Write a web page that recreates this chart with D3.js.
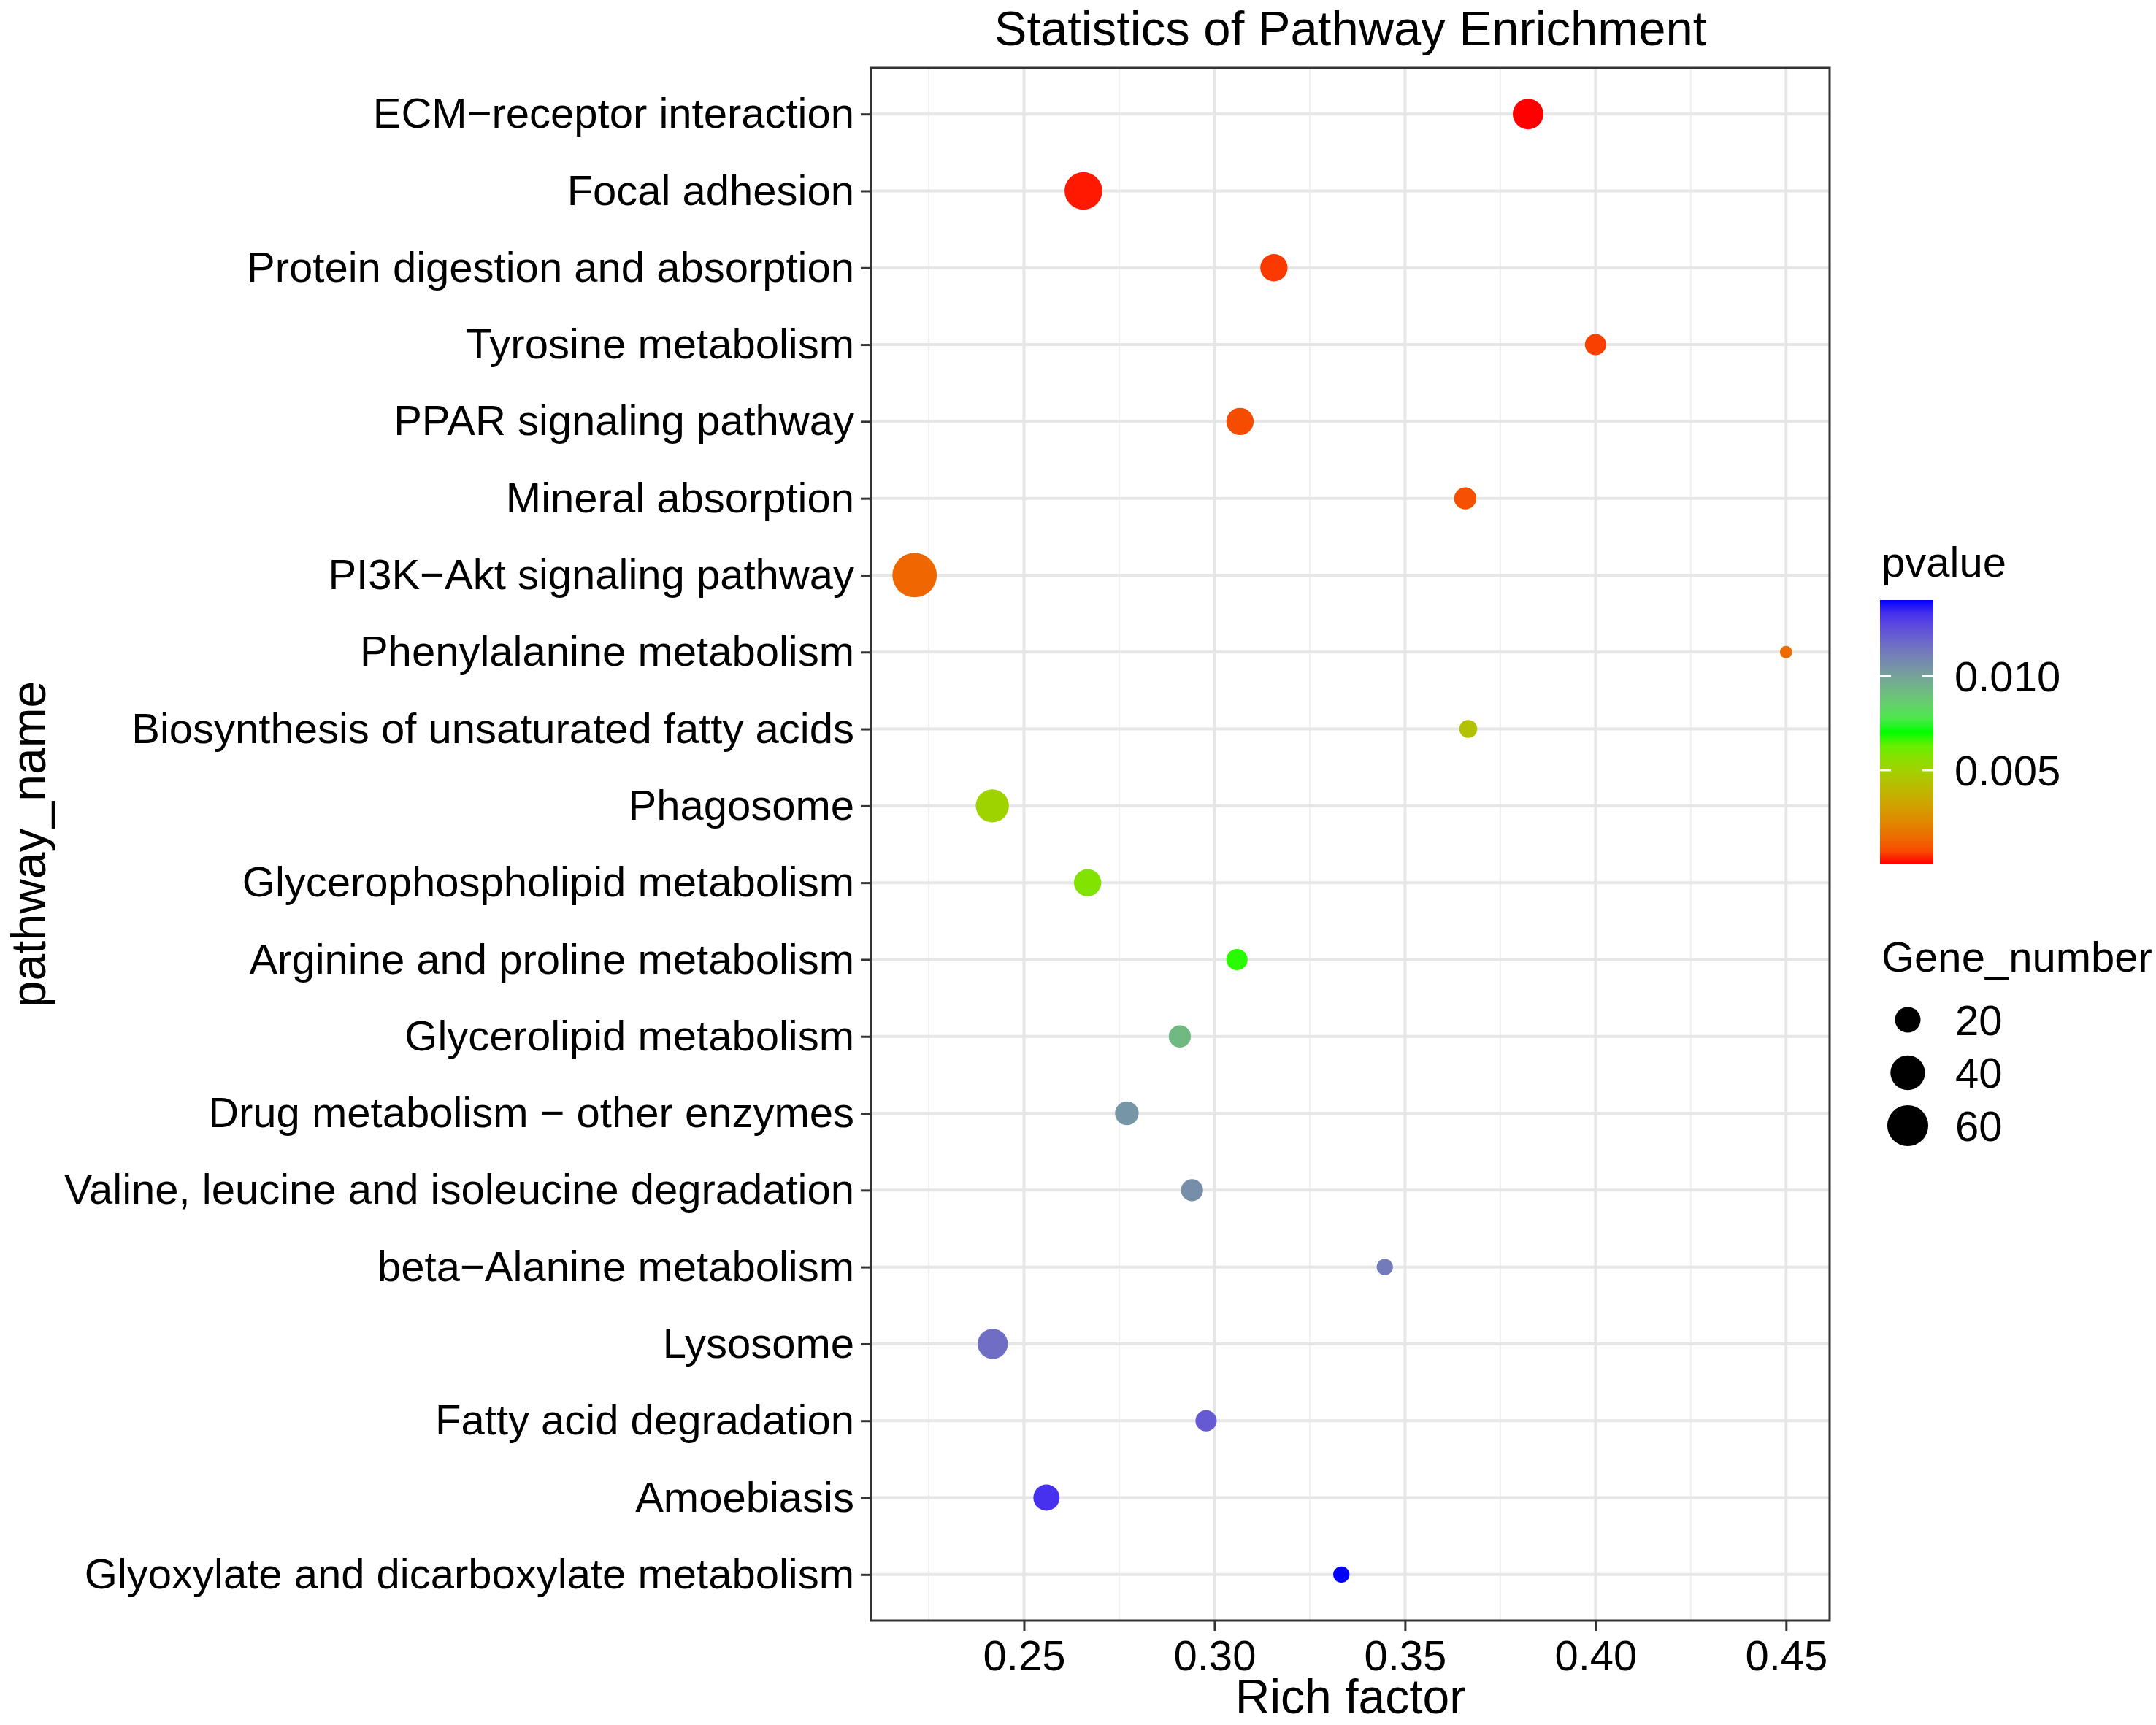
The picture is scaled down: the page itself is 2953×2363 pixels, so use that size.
<!DOCTYPE html>
<html>
<head>
<meta charset="utf-8">
<script src="https://cdn.jsdelivr.net/npm/d3@7"></script>
<style>
    body { margin: 0; background: #fff; }
    text { font-family: "Liberation Sans", Arial, Helvetica, sans-serif; fill: #000; }
</style>
</head>
<body>
<div id="chart-div"></div>
<script>

// pathways, top to bottom
const pathways = [
    "ECM\u2212receptor interaction",
    "Focal adhesion",
    "Protein digestion and absorption",
    "Tyrosine metabolism",
    "PPAR signaling pathway",
    "Mineral absorption",
    "PI3K\u2212Akt signaling pathway",
    "Phenylalanine metabolism",
    "Biosynthesis of unsaturated fatty acids",
    "Phagosome",
    "Glycerophospholipid metabolism",
    "Arginine and proline metabolism",
    "Glycerolipid metabolism",
    "Drug metabolism \u2212 other enzymes",
    "Valine, leucine and isoleucine degradation",
    "beta\u2212Alanine metabolism",
    "Lysosome",
    "Fatty acid degradation",
    "Amoebiasis",
    "Glyoxylate and dicarboxylate metabolism"
];

const richFactor = [0.3823, 0.2656, 0.3156, 0.4000, 0.3067, 0.3658, 0.2213, 0.4500, 0.3666, 0.2417,
                    0.2667, 0.3059, 0.2909, 0.2770, 0.2941, 0.3447, 0.2418, 0.2978, 0.2559, 0.3333];

const geneNumber = [30, 49, 23, 14, 23, 15, 73, 9, 11, 36,
                    23, 14, 15, 17, 15, 10, 29, 14, 21, 10];

const pValue = [0.00002, 0.00012, 0.00045, 0.00055, 0.00075, 0.00085, 0.00135, 0.00145, 0.0044, 0.0051,
                0.0058, 0.0069, 0.0092, 0.0104, 0.0106, 0.0112, 0.0116, 0.0122, 0.0133, 0.01402];

const xTicks = [0.25, 0.30, 0.35, 0.40, 0.45];
const pTicks = [0.005, 0.010];
const sizeBreaks = [20, 40, 60];


function drawChart() {

    const svgDims = { width: 2953, height: 2363 };
    const margin = { top: 93, right: 447, bottom: 143, left: 1193 };

    const svg = d3.select("#chart-div")
        .append("svg")
        .attr("width", svgDims.width)
        .attr("height", svgDims.height);

    const width = svgDims.width - margin.left - margin.right;
    const height = svgDims.height - margin.top - margin.bottom;
    const g = svg.append("g").attr("transform", "translate(" + margin.left + "," + margin.top + ")");

    const rows = pathways.map((name, i) => ({ name: name, rich: richFactor[i], genes: geneNumber[i], p: pValue[i] }));

    // ggplot style 5% expansion
    const [rLo, rHi] = d3.extent(richFactor);
    const pad = (rHi - rLo) * 0.05;
    const xScale = d3.scaleLinear()
        .domain([rLo - pad, rHi + pad])
        .range([0, width]);

    const yScale = d3.scalePoint()
        .domain(pathways)
        .range([0, height])
        .padding(0.6);

    const [pMin, pMax] = d3.extent(pValue);
    const colorScale = d3.scaleLinear()
        .domain([pMin, (pMin + pMax) / 2, pMax])
        .range(["#ff0000", "#00ff00", "#0000ff"])
        .interpolate(d3.interpolateLab);

    // area scale: sqrt of rescaled count
    const [nMin, nMax] = d3.extent(geneNumber);
    const sizeNorm = d3.scaleLinear().domain([nMin, nMax]).range([0, 1]);
    const radiusScale = d3.scaleSqrt().domain([0, 1]).range([8.4, 30.4]);
    const radius = n => radiusScale(sizeNorm(n));

    // Grid - minor lines halfway between the breaks
    const step = xTicks[1] - xTicks[0];
    const xMinor = xTicks.map(t => t - step / 2).concat([xTicks[xTicks.length - 1] + step / 2])
        .filter(v => v > xScale.domain()[0] && v < xScale.domain()[1]);

    g.selectAll(".minor-x").data(xMinor).enter().append("line")
        .attr("x1", d => xScale(d)).attr("x2", d => xScale(d))
        .attr("y1", 0).attr("y2", height)
        .attr("stroke", "#f0f0f0").attr("stroke-width", 2);

    g.selectAll(".major-x").data(xTicks).enter().append("line")
        .attr("x1", d => xScale(d)).attr("x2", d => xScale(d))
        .attr("y1", 0).attr("y2", height)
        .attr("stroke", "#e6e6e6").attr("stroke-width", 4);

    g.selectAll(".major-y").data(pathways).enter().append("line")
        .attr("x1", 0).attr("x2", width)
        .attr("y1", d => yScale(d)).attr("y2", d => yScale(d))
        .attr("stroke", "#e6e6e6").attr("stroke-width", 4);

    // Points
    g.selectAll("circle.pt").data(rows).enter().append("circle")
        .attr("cx", d => xScale(d.rich))
        .attr("cy", d => yScale(d.name))
        .attr("r", d => radius(d.genes))
        .style("fill", d => colorScale(d.p));

    // Panel border
    g.append("rect")
        .attr("width", width).attr("height", height)
        .attr("fill", "none").attr("stroke", "#333").attr("stroke-width", 3);

    // x axis
    const xGroup = g.append("g")
        .attr("transform", "translate(0," + height + ")")
        .call(d3.axisBottom(xScale)
            .tickValues(xTicks)
            .tickFormat(d3.format(".2f"))
            .tickSize(14)
            .tickPadding(13));
    xGroup.attr("font-size", null).attr("font-family", null);
    xGroup.select(".domain").remove();
    xGroup.selectAll("line").attr("stroke", "#333").attr("stroke-width", 3);
    xGroup.selectAll("text").attr("font-size", 58);

    // y axis
    const yGroup = g.append("g")
        .call(d3.axisLeft(yScale).tickSize(14).tickPadding(9));
    yGroup.attr("font-size", null).attr("font-family", null);
    yGroup.select(".domain").remove();
    yGroup.selectAll("line").attr("stroke", "#333").attr("stroke-width", 3);
    yGroup.selectAll("text").attr("font-size", 58);

    // Titles
    svg.append("text")
        .attr("x", margin.left + width / 2).attr("y", 62)
        .attr("text-anchor", "middle").attr("font-size", 67)
        .text("Statistics of Pathway Enrichment");

    svg.append("text")
        .attr("x", margin.left + width / 2).attr("y", 2347)
        .attr("text-anchor", "middle").attr("font-size", 66)
        .text("Rich factor");

    svg.append("text")
        .attr("transform", "translate(62," + (margin.top + height / 2) + ") rotate(-90)")
        .attr("text-anchor", "middle").attr("font-size", 66)
        .text("pathway_name");

    // Colour bar legend
    const bar = { x: 2575, w: 73, top: 822, bottom: 1184 };
    const legendY = d3.scaleLinear().domain([pMin, pMax]).range([bar.bottom, bar.top]);

    const grad = svg.append("defs").append("linearGradient")
        .attr("id", "pgrad")
        .attr("x1", 0).attr("y1", 1).attr("x2", 0).attr("y2", 0);
    grad.selectAll("stop").data(d3.range(0, 21)).enter().append("stop")
        .attr("offset", d => (d / 20 * 100) + "%")
        .attr("stop-color", d => colorScale(pMin + (pMax - pMin) * d / 20));

    svg.append("text")
        .attr("x", 2577).attr("y", 790)
        .attr("font-size", 58)
        .text("pvalue");

    svg.append("rect")
        .attr("x", bar.x).attr("y", bar.top)
        .attr("width", bar.w).attr("height", bar.bottom - bar.top)
        .attr("fill", "url(#pgrad)");

    const barTicks = svg.append("g");
    barTicks.selectAll(".tl").data(pTicks).enter().append("line")
        .attr("x1", bar.x).attr("x2", bar.x + 15)
        .attr("y1", d => legendY(d)).attr("y2", d => legendY(d))
        .attr("stroke", "#fff").attr("stroke-width", 2.5);
    barTicks.selectAll(".tr").data(pTicks).enter().append("line")
        .attr("x1", bar.x + bar.w - 15).attr("x2", bar.x + bar.w)
        .attr("y1", d => legendY(d)).attr("y2", d => legendY(d))
        .attr("stroke", "#fff").attr("stroke-width", 2.5);
    svg.selectAll(".plab").data(pTicks).enter().append("text")
        .attr("x", 2677).attr("y", d => legendY(d))
        .attr("dy", "0.36em").attr("font-size", 58)
        .text(d => d3.format(".3f")(d));

    // Size legend
    svg.append("text")
        .attr("x", 2577).attr("y", 1331)
        .attr("font-size", 58)
        .text("Gene_number");

    const keyY = d3.scalePoint().domain(sizeBreaks).range([1397, 1542]);
    svg.selectAll(".skey").data(sizeBreaks).enter().append("circle")
        .attr("cx", 2613).attr("cy", d => keyY(d))
        .attr("r", d => radius(d))
        .style("fill", "#000");
    svg.selectAll(".slab").data(sizeBreaks).enter().append("text")
        .attr("x", 2678).attr("y", d => keyY(d))
        .attr("dy", "0.36em").attr("font-size", 58)
        .text(d => d);
}

drawChart();
</script>
</body>
</html>
